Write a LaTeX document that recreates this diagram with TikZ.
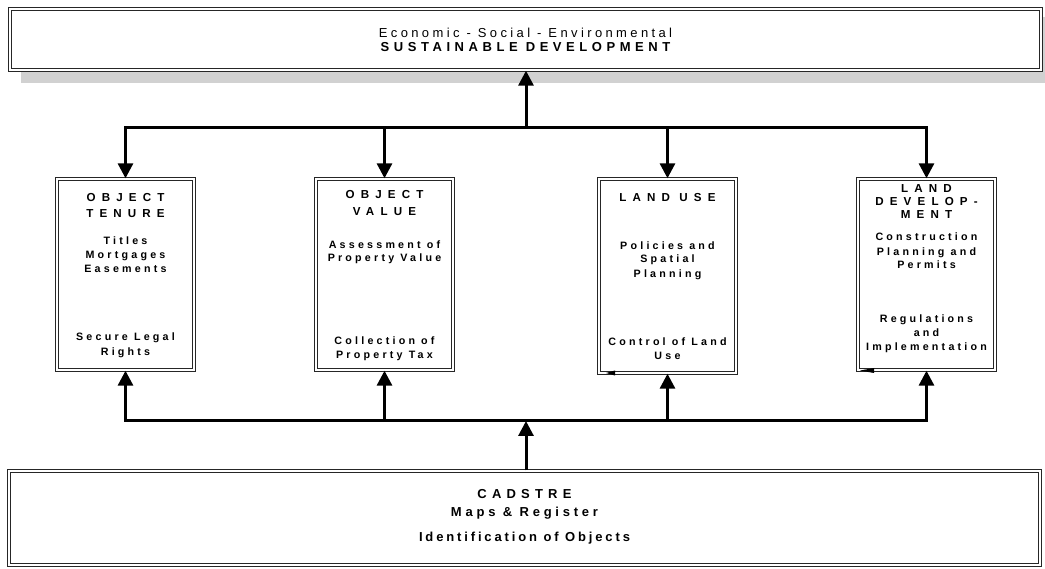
\documentclass[tikz,border=0pt]{standalone}
\usepackage{fontspec}
\setmainfont{Liberation Sans}
\newfontfamily\fTopR{Liberation Sans}[LetterSpace=26,Ligatures=CommonOff]
\newfontfamily\fTopB{Liberation Sans}[LetterSpace=35,Ligatures=CommonOff]
\newfontfamily\fHd{Liberation Sans}[LetterSpace=53,Ligatures=CommonOff]
\newfontfamily\fBd{Liberation Sans}[LetterSpace=30,Ligatures=CommonOff]
\newfontfamily\fCadH{Liberation Sans}[LetterSpace=40,Ligatures=CommonOff]
\newfontfamily\fCadM{Liberation Sans}[LetterSpace=29,Ligatures=CommonOff]
\newfontfamily\fCadI{Liberation Sans}[LetterSpace=22,Ligatures=CommonOff]
\usetikzlibrary{arrows.meta}
\tikzset{
  dbox/.style={draw=black!85, line width=1pt, double=white, double distance=1.6pt,
    fill=white, inner sep=0pt, minimum width=137.4pt},
  conn/.style={line width=3pt, line join=miter, -{Triangle[length=15pt,width=15pt]}},
  tl/.style={anchor=base, inner sep=0pt},
  topr/.style={tl, font=\fTopR\fontsize{13}{15}\selectfont},
  topb/.style={tl, font=\fTopB\fontsize{13}{15}\selectfont\bfseries},
  hd/.style={tl, font=\fHd\fontsize{11.6}{13}\selectfont\bfseries},
  bd/.style={tl, font=\fBd\fontsize{10.7}{12}\selectfont\bfseries},
  cadh/.style={tl, font=\fCadH\fontsize{13}{15}\selectfont\bfseries},
  cadm/.style={tl, font=\fCadM\fontsize{13}{15}\selectfont\bfseries},
  cadi/.style={tl, font=\fCadI\fontsize{13}{15}\selectfont\bfseries},
  glitch/.style={fill=black}
}
\begin{document}
\begin{tikzpicture}[x=1pt,y=-1pt]
\useasboundingbox (0,0) rectangle (1045,569);
% shadow of top box
\fill[black!18] (21,17) rectangle (1045,83);
% boxes
\node[dbox, minimum width=1031.4pt, minimum height=61.4pt] (top) at (525.5,39.5) {};
\node[dbox, minimum height=191.4pt] (b1) at (125.5,274.5) {};
\node[dbox, minimum height=191.4pt] (b2) at (384.5,274.5) {};
\node[dbox, minimum height=194.4pt] (b3) at (667.5,276) {};
\node[dbox, minimum height=191.4pt] (b4) at (926.5,274.5) {};
\node[dbox, minimum width=1031.4pt, minimum height=94.4pt] (cad) at (524.5,518) {};
% small marks at bottom-left of boxes 3 and 4
\fill[glitch] (606,373) -- (615,370.5) -- (615,375.5) -- cycle;
\fill[glitch] (860,370.5) -- (874,368) -- (874,373) -- cycle;
% junctions
\coordinate (tj) at (526,128);
\coordinate (bj) at (526,421);
% connectors
\draw[conn] (tj) -- (tj |- top.south);
\draw[conn] (tj) -| (b1.north);
\draw[conn] (tj) -| (b2.north);
\draw[conn] (tj) -| (b3.north);
\draw[conn] (tj) -| (b4.north);
\draw[conn] (bj |- cad.north) -- (bj);
\draw[conn] (bj) -| (b1.south);
\draw[conn] (bj) -| (b2.south);
\draw[conn] (bj) -| (b3.south);
\draw[conn] (bj) -| (b4.south);
% top texts
\node[topr] (t1) at (525.5,37.5) {Economic - Social - Environmental};
\node[topb] (t2) at (525.5,51.7) {SUSTAINABLE DEVELOPMENT};
% box 1
\node[hd] (b1h1) at (125.5,202) {OBJECT};
\node[hd] (b1h2) at (125.5,217.5) {TENURE};
\node[bd] (b1m1) at (125.5,244.5) {Titles};
\node[bd] (b1m2) at (125.5,258.8) {Mortgages};
\node[bd] (b1m3) at (125.5,272.1) {Easements};
\node[bd] (b1l1) at (125.5,340.8) {Secure Legal};
\node[bd] (b1l2) at (125.5,355.5) {Rights};
% box 2
\node[hd] (b2h1) at (384.5,199) {OBJECT};
\node[hd] (b2h2) at (384.5,215.7) {VALUE};
\node[bd] (b2m1) at (384.5,248.3) {Assessment of};
\node[bd] (b2m2) at (384.5,261.6) {Property Value};
\node[bd] (b2l1) at (384.5,344.1) {Collection of};
\node[bd] (b2l2) at (384.5,358.3) {Property Tax};
% box 3
\node[hd] (b3h1) at (667.5,201.7) {LAND USE};
\node[bd] (b3m1) at (667.5,249.3) {Policies and};
\node[bd] (b3m2) at (667.5,262.6) {Spatial};
\node[bd] (b3m3) at (667.5,277.5) {Planning};
\node[bd] (b3l1) at (667.5,346) {Control of Land};
\node[bd] (b3l2) at (667.5,359.6) {Use};
% box 4
\node[hd] (b4h1) at (926.5,192.5) {LAND};
\node[hd] (b4h2) at (926.5,205.9) {DEVELOP-};
\node[hd] (b4h3) at (926.5,218.9) {MENT};
\node[bd] (b4m1) at (926.5,241) {Construction};
\node[bd] (b4m2) at (926.5,255.1) {Planning and};
\node[bd] (b4m3) at (926.5,268.3) {Permits};
\node[bd] (b4l1) at (926.5,322.6) {Regulations};
\node[bd] (b4l2) at (926.5,336.6) {and};
\node[bd] (b4l3) at (926.5,350.5) {Implementation};
% cadastre texts
\node[cadh] (c1) at (524.5,498) {CADSTRE};
\node[cadm] (c2) at (524.5,516.4) {Maps \& Register};
\node[cadi] (c3) at (524.5,541.5) {Identification of Objects};
\end{tikzpicture}
\end{document}
